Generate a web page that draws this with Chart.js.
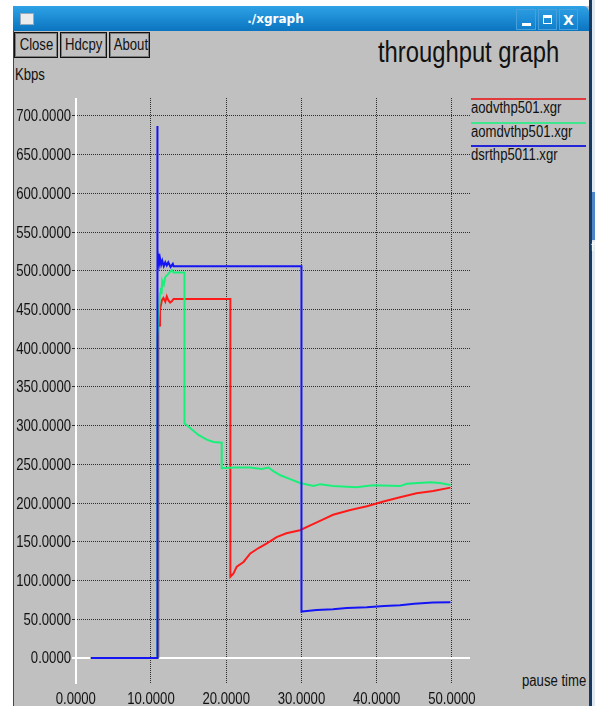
<!DOCTYPE html>
<html lang="en">
  <head>
    <meta charset="UTF-8" />
    <title>./xgraph</title>
    <script src="https://cdn.jsdelivr.net/npm/chart.js@4.4.0/dist/chart.umd.min.js"></script>
    <style>
      body { margin: 0; width: 595px; height: 706px; overflow: hidden; position: relative; background: #fff;
        font-family: "Liberation Sans", Arial, sans-serif; color: #111; }
      /* xgraph uses a narrow helvetica; squeeze Liberation Sans to match */
      .nw { display: inline-block; transform: scaleX(0.82); transform-origin: left center; white-space: nowrap; }
      #win { position: absolute; left: 13px; top: 6px; width: 575px; height: 700px; background: #c0c0c0; border-left: 1px solid #1d4f86; }
      #titlebar { position: absolute; left: 13px; top: 6px; width: 576px; height: 25px; border-top-right-radius: 6px;
        background: linear-gradient(#2ea2e6, #0b74c0); }
      #titletext { position: absolute; left: 0; width: 525px; top: 6px; text-align: center; color: #fff;
        font: bold 12px "DejaVu Sans", sans-serif; }
      #icon { position: absolute; left: 7px; top: 7px; width: 12px; height: 10px; background: #ececec; border: 1px solid #9ab; }
      .tile { position: absolute; top: 3px; height: 21px; background: linear-gradient(#2a9ae0, #1180cc); border: 1px solid #45a0dc; box-sizing: border-box; }
      .tile .g { position: absolute; background: #fff; }
      .tile .x { position: absolute; left: 0; width: 100%; top: 1px; text-align: center; color: #fff;
        font: bold 14px "DejaVu Sans", sans-serif; line-height: 18px; }
      #desk { position: absolute; left: 589px; top: 0; width: 3px; height: 706px; background: #dfe8f1; border-left: 3px solid #17395f; }
      #deskband { position: absolute; left: 592px; top: 192px; width: 3px; height: 48px; background: #4f86c8; }
      #deskf { position: absolute; left: 591px; top: 240px; font-size: 12px; color: #fff; }
      .btn { position: absolute; top: 32px; height: 26px; box-sizing: border-box; border: 1px solid #111;
        box-shadow: inset 0 0 0 1px #7c7c7c; font-size: 16px; line-height: 24px; text-align: center; }
      .btn .nw { transform-origin: center center; }
      #title { position: absolute; left: 378px; top: 38px; font-size: 29px; line-height: 29px; }
      #kbps { position: absolute; left: 15px; top: 67px; font-size: 16px; line-height: 16px; }
      #pause { position: absolute; left: 522px; top: 673px; font-size: 16px; line-height: 16px; }
      #legend { position: absolute; left: 471px; top: 98px; width: 115px; }
      .item { height: 23.5px; position: relative; }
      .item .ln { height: 2px; }
      .item .lb { font-size: 16px; line-height: 16px; }
      #chart { position: absolute; left: 0; top: 0; }
    </style>
  </head>
  <body>
    <div id="win"></div>
    <div id="titlebar">
      <div id="icon"></div>
      <div id="titletext">./xgraph</div>
      <div class="tile" style="left: 503px; width: 20px;"><div class="g" style="left: 5px; top: 13px; width: 9px; height: 3px;"></div></div>
      <div class="tile" style="left: 525px; width: 19px;">
        <div class="g" style="left: 4px; top: 5px; width: 9px; height: 3px;"></div>
        <div class="g" style="left: 4px; top: 5px; width: 1px; height: 9px;"></div>
        <div class="g" style="left: 12px; top: 5px; width: 1px; height: 9px;"></div>
        <div class="g" style="left: 4px; top: 13px; width: 9px; height: 1px;"></div>
      </div>
      <div class="tile" style="left: 546px; width: 19px;"><div class="x">X</div></div>
    </div>
    <div id="desk"></div>
    <div id="deskband"></div>
    <div id="deskf">f</div>
    <div class="btn" style="left: 14px; width: 44px;"><span class="nw">Close</span></div>
    <div class="btn" style="left: 60px; width: 47px;"><span class="nw">Hdcpy</span></div>
    <div class="btn" style="left: 109px; width: 41px;"><span class="nw">About</span></div>
    <div id="title"><span class="nw">throughput graph</span></div>
    <div id="kbps"><span class="nw">Kbps</span></div>
    <div id="pause"><span class="nw">pause time</span></div>
    <div id="legend"></div>
    <canvas id="chart" width="595" height="706"></canvas>
    <script>
      const seriesNames = ["aodvthp501.xgr", "aomdvthp501.xgr", "dsrthp5011.xgr"]
      const seriesColors = ["#ff1a1a", "#19f07a", "#1414f5"]
      const legendColors = ["#e23a3a", "#3ee68e", "#2424d8"]

      const xTicks = [0, 10, 20, 30, 40, 50]
      const yTicks = [0, 50, 100, 150, 200, 250, 300, 350, 400, 450, 500, 550, 600, 650, 700]

      // aodv (red)
      const aodvX = [2, 11.0, 11.0, 10.95, 10.95, 11.2, 11.2, 11.45, 11.65, 11.9, 12.1, 12.3, 12.55, 12.8, 13.0, 20.55, 20.55, 20.95, 21.4, 22.3, 23.2, 24.3, 25.4, 26.7, 28.0, 29.8, 31.1, 32.9, 34.2, 36.5, 38.7, 40.9, 43.1, 45.3, 47.5, 49.8]
      const aodvY = [0, 0, 350, 413, 443, 428, 450, 462, 465, 460, 467, 462, 459, 461, 463.6, 463.6, 105, 109, 118, 124, 135, 142, 148, 156, 161, 165, 171, 179, 185, 191, 196, 202, 207.5, 212.7, 215.7, 220]

      // aomdv (green)
      const aomdvX = [2, 10.86, 10.86, 11.0, 11.2, 11.3, 11.4, 11.5, 11.7, 11.9, 12.2, 12.55, 12.77, 13.0, 14.45, 14.45, 15.2, 16.3, 17.4, 18.3, 19.4, 19.4, 20.95, 23.2, 24.7, 25.6, 26.3, 27.2, 28.5, 29.8, 31.6, 32.5, 34.2, 37.3, 39.5, 43.1, 44.0, 47.1, 48.4, 49.8]
      const aomdvY = [0, 0, 415, 440, 471, 478, 470, 487, 482, 492, 495, 499, 501, 498, 498, 303, 297, 288, 282, 279, 278, 245, 246, 246, 244, 246, 241, 236, 231, 226, 222, 224.5, 222, 220.4, 223, 222, 225, 227, 226, 223.4]

      // dsr (blue)
      const dsrX = [2, 10.8, 10.8, 10.83, 10.86, 10.88, 10.92, 10.95, 11.0, 11.1, 11.2, 11.35, 11.5, 11.7, 11.9, 12.1, 12.3, 12.6, 12.9, 13.0, 30.0, 30.0, 30.4, 32.0, 34.2, 36.0, 38.7, 41.0, 43.1, 45.0, 47.5, 49.8]
      const dsrY = [0, 0, 687, 560, 571, 520, 527, 512, 522, 510, 516, 508, 513, 506, 511, 507, 511, 505, 509, 506, 506, 60, 60.5, 62, 63, 64.5, 65.5, 67, 68, 70, 71.5, 72]

      const legend = document.getElementById("legend")
      seriesNames.forEach((name, i) => {
        const item = document.createElement("div")
        item.className = "item"
        item.innerHTML = '<div class="ln" style="background:' + legendColors[i] + '"></div><div class="lb"><span class="nw">' + name + "</span></div>"
        legend.appendChild(item)
      })

      const toPoints = (xs, ys) => xs.map((x, i) => ({ x: x, y: ys[i] }))
      const allX = [aodvX, aomdvX, dsrX]
      const allY = [aodvY, aomdvY, dsrY]
      const fmt = (v) => Number(v).toFixed(4)

      // white axis lines at x = 0 and y = 0, under the data
      const zeroLines = {
        id: "zeroLines",
        beforeDatasetsDraw(chart) {
          const { ctx, chartArea, scales } = chart
          const x0 = Math.round(scales.x.getPixelForValue(0))
          const y0 = Math.round(scales.y.getPixelForValue(0))
          ctx.save()
          ctx.strokeStyle = "#ffffff"
          ctx.lineWidth = 2
          ctx.beginPath()
          ctx.moveTo(chartArea.left - 3, y0)
          ctx.lineTo(chartArea.right, y0)
          ctx.moveTo(x0, chartArea.top)
          ctx.lineTo(x0, chartArea.bottom)
          ctx.stroke()
          ctx.restore()
        },
      }

      // tick labels in a squeezed font (no narrow face is installed)
      const narrowTicks = {
        id: "narrowTicks",
        afterDraw(chart) {
          const { ctx, chartArea, scales } = chart
          const put = (text, x, y, align) => {
            ctx.save()
            ctx.translate(x, y)
            ctx.scale(0.82, 1)
            ctx.textAlign = align
            ctx.textBaseline = "middle"
            ctx.fillText(text, 0, 0)
            ctx.restore()
          }
          ctx.save()
          ctx.fillStyle = "#111"
          ctx.font = '16px "Liberation Sans", Arial, sans-serif'
          scales.y.ticks.forEach((t) => put(fmt(t.value), chartArea.left - 4, scales.y.getPixelForValue(t.value) + 1, "right"))
          scales.x.ticks.forEach((t) => put(fmt(t.value), scales.x.getPixelForValue(t.value), chartArea.bottom + 16, "center"))
          ctx.restore()
        },
      }

      const gridColor = (c) => (c.tick && c.tick.value === 0 ? "rgba(0,0,0,0)" : "#2e2e2e")

      new Chart(document.getElementById("chart"), {
        type: "line",
        data: {
          datasets: seriesNames.map((name, i) => ({
            label: name,
            data: toPoints(allX[i], allY[i]),
            borderColor: seriesColors[i],
            borderWidth: 2,
            pointRadius: 0,
            tension: 0,
            fill: false,
            order: 2 - i,
          })),
        },
        options: {
          responsive: false,
          animation: false,
          events: [],
          layout: { padding: { left: 14, top: 98, right: 125, bottom: 0 } },
          plugins: { legend: { display: false }, tooltip: { enabled: false } },
          scales: {
            x: {
              type: "linear",
              min: -0.1,
              max: 52.4,
              afterBuildTicks: (s) => { s.ticks = xTicks.map((v) => ({ value: v })) },
              afterFit: (s) => { s.height = 22 },
              grid: { color: gridColor, lineWidth: 1, drawTicks: false },
              border: { display: false, dash: [1, 1] },
              ticks: { display: false, callback: fmt },
            },
            y: {
              type: "linear",
              min: -33.6,
              max: 723.2,
              afterBuildTicks: (s) => { s.ticks = yTicks.map((v) => ({ value: v })) },
              afterFit: (s) => { s.width = 61 },
              grid: { color: gridColor, lineWidth: 1, drawTicks: true, tickLength: 3 },
              border: { display: false, dash: [1, 1] },
              ticks: { display: false, callback: fmt },
            },
          },
        },
        plugins: [zeroLines, narrowTicks],
      })
    </script>
  </body>
</html>
